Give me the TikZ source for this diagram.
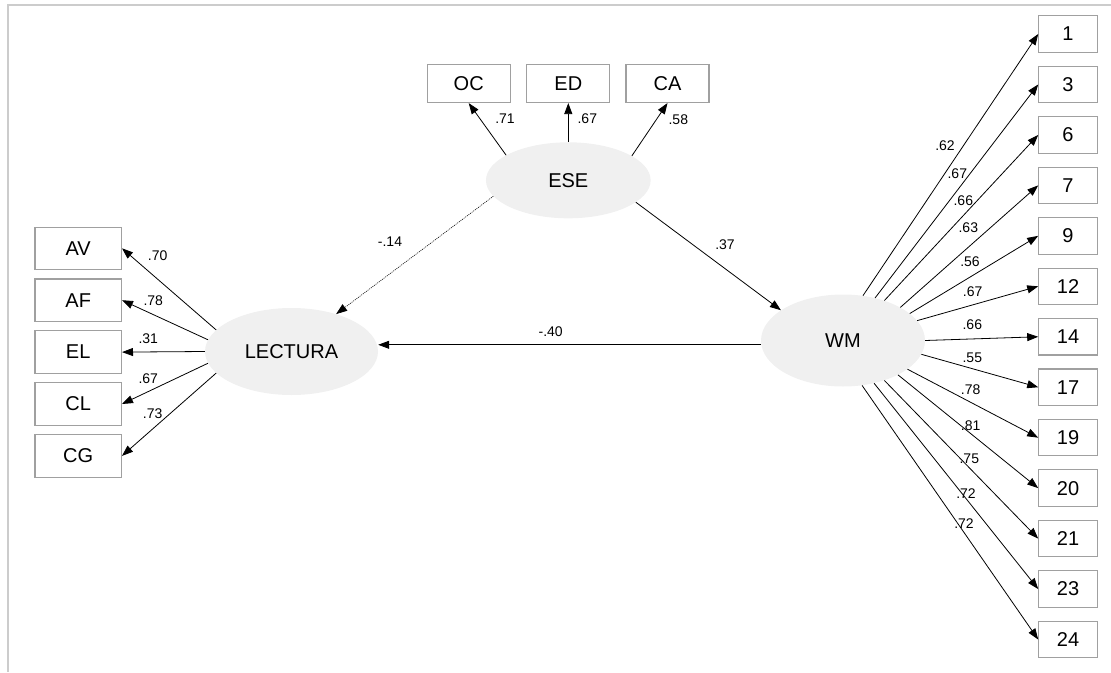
\documentclass[tikz,border=0pt]{standalone}
\usepackage{fontspec}
\setmainfont{Liberation Sans}
\usetikzlibrary{arrows.meta,shapes.geometric}
\definecolor{latfill}{HTML}{F0F0F0}
\definecolor{boxline}{HTML}{A0A0A0}
\definecolor{framecol}{HTML}{CCCCCC}
\begin{document}
\begin{tikzpicture}[x=1pt,y=-1pt,
  obs/.style={draw=boxline,line width=1.1pt,fill=white,inner sep=0pt,font=\fontsize{20}{24}\selectfont},
  lbox/.style={obs,minimum width=86.5pt,minimum height=42.5pt},
  tbox/.style={obs,minimum width=83pt,minimum height=38pt},
  rbox/.style={obs,minimum width=58.5pt,minimum height=36.5pt},
  lat/.style={ellipse,fill=latfill,inner sep=0pt,font=\fontsize{20}{24}\selectfont},
  regpath/.style={line width=0.8pt,-{Triangle[length=11pt,width=8pt]}},
  coef/.style={inner sep=0pt,font=\fontsize{14}{17}\selectfont}]
\useasboundingbox (0,0) rectangle (1111,672);
\draw[framecol,line width=2pt] (1111,5.3) -| (8,672);

% latent variables
\node[lat,minimum width=173pt,minimum height=87pt] (lect) at (291.5,351.5) {LECTURA};
\node[lat,minimum width=164.7pt,minimum height=76pt] (ese) at (568.3,180.3) {ESE};
\node[lat,minimum width=164pt,minimum height=92pt] (wm) at (843,340.5) {WM};

% ESE indicators
\node[tbox] (oc) at (468.7,83.5) {OC};
\node[tbox] (ed) at (568.3,83.5) {ED};
\node[tbox] (ca) at (667.5,83.5) {CA};
\draw[regpath] (ese.158.8) -- (oc.south);
\draw[regpath] (ese.90) -- (ed.south);
\draw[regpath] (ese.21) -- (ca.south);
\node[coef] (coc) at (505,118.3) {.71};
\node[coef] (ced) at (587.3,118.3) {.67};
\node[coef] (cca) at (678.3,119.3) {.58};

% LECTURA indicators
\foreach \n/\a/\lx/\ly/\v [count=\k from 0] in
  {AV/164/157.7/255.7/.70, AF/172.2/153.3/301/.78, EL/180/148.3/338.3/.31,
   CL/188.5/148.3/378.3/.67, CG/196/152.7/413.3/.73}
{
  \node[lbox] (l\n) at (78.2,{248.3+51.9*\k}) {\n};
  \draw[regpath] (lect.\a) -- (l\n.east);
  \node[coef] (c\n) at (\lx,\ly) {\v};
}

% WM indicators
\foreach \t/\a/\lx/\ly/\v [count=\k from 0] in
  {1/66.6/945/145.7/.62, 3/53.2/957.3/173.3/.67, 6/44/963.3/200.7/.66,
   7/30.2/968.3/227.7/.63, 9/22.2/970/261.7/.56, 12/15.2/972.7/291.7/.67,
   14/0.8/972.3/325/.66, 17/-10.7/972.3/357.3/.55, 19/-24.8/970.7/389.3/.78,
   20/-32/970.7/426/.81, 21/-44.4/969.3/458.3/.75, 23/-54.3/966/493.3/.72,
   24/-67.2/964/524/.72}
{
  \node[rbox] (r\t) at (1068,{34+50.46*\k}) {\t};
  \draw[regpath] (wm.\a) -- (r\t.west);
  \node[coef] (cr\t) at (\lx,\ly) {\v};
}

% structural paths
\draw[regpath,line width=0.6pt,dash pattern=on 1pt off 1pt] (ese.192.3) -- (lect.40);
\draw[regpath] (ese.-18.1) -- (wm.154.4);
\draw[regpath] (wm.183) -- (wm.183 -| lect.east);
\node[coef] (c14) at (390,241.7) {-.14};
\node[coef] (c37) at (725,245) {.37};
\node[coef] (c40) at (550.7,331.7) {-.40};
\end{tikzpicture}
\end{document}
